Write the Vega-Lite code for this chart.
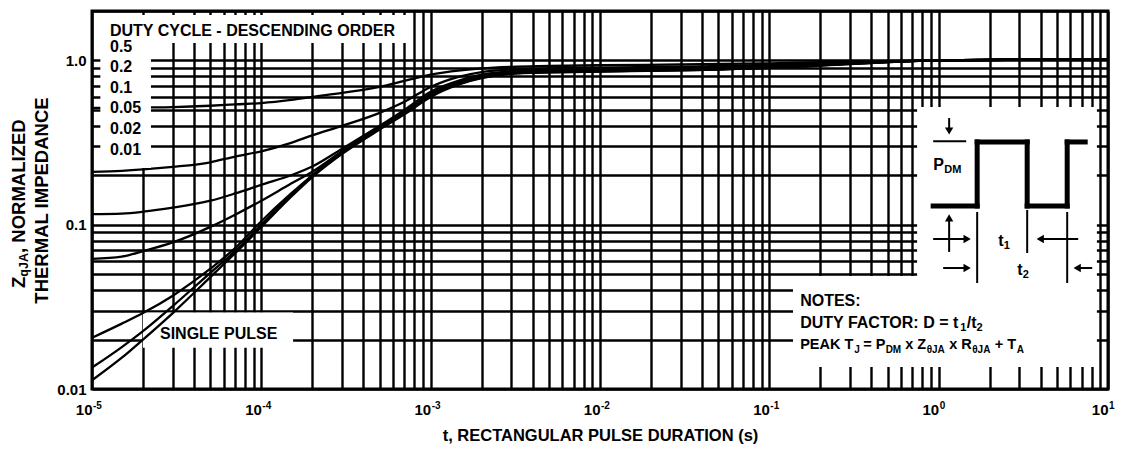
{
"$schema":"https://vega.github.io/schema/vega-lite/v6.json",
"width":1016,"height":378,
"autosize":{"type":"none"},
"padding":{"left":92,"top":11,"right":19,"bottom":67},
"background":"white",
"config":{
 "view":{"stroke":"black","strokeWidth":3},
 "font":"Liberation Sans, Arial, sans-serif",
 "axis":{"grid":true,"gridColor":"black","gridWidth":2.4,"gridOpacity":1,"ticks":false,"domain":false,
  "labelColor":"black","titleColor":"black","labelFontWeight":"bold","titleFontWeight":"bold",
  "labelFont":"Liberation Sans, Arial, sans-serif","titleFont":"Liberation Sans, Arial, sans-serif",
  "labelOverlap":false,"labelFlush":false,"labelBound":false}
},
"datasets":{
"curves":[
{"d":"SP","t":0.00001,"z":0.0113},{"d":"SP","t":0.000015,"z":0.0155},{"d":"SP","t":0.00002,"z":0.02},{"d":"SP","t":0.00003,"z":0.029},{"d":"SP","t":0.00005,"z":0.048},{"d":"SP","t":0.00007,"z":0.067},{"d":"SP","t":0.0001,"z":0.097},{"d":"SP","t":0.00015,"z":0.148},{"d":"SP","t":0.0002,"z":0.195},{"d":"SP","t":0.0003,"z":0.27},{"d":"SP","t":0.0005,"z":0.38},{"d":"SP","t":0.0007,"z":0.47},{"d":"SP","t":0.001,"z":0.6},{"d":"SP","t":0.0015,"z":0.72},{"d":"SP","t":0.002,"z":0.78},{"d":"SP","t":0.003,"z":0.83},{"d":"SP","t":0.005,"z":0.845},{"d":"SP","t":0.01,"z":0.855},{"d":"SP","t":0.03,"z":0.87},{"d":"SP","t":0.1,"z":0.9},{"d":"SP","t":0.3,"z":0.95},{"d":"SP","t":1,"z":1.0},{"d":"SP","t":3,"z":1.01},{"d":"SP","t":10,"z":1.01},
{"d":"0.01","t":0.00001,"z":0.0135},{"d":"0.01","t":0.000015,"z":0.018},{"d":"0.01","t":0.00002,"z":0.0225},{"d":"0.01","t":0.00003,"z":0.032},{"d":"0.01","t":0.00005,"z":0.051},{"d":"0.01","t":0.00007,"z":0.069},{"d":"0.01","t":0.0001,"z":0.1},{"d":"0.01","t":0.00015,"z":0.152},{"d":"0.01","t":0.0002,"z":0.198},{"d":"0.01","t":0.0003,"z":0.272},{"d":"0.01","t":0.0005,"z":0.385},{"d":"0.01","t":0.0007,"z":0.475},{"d":"0.01","t":0.001,"z":0.61},{"d":"0.01","t":0.0015,"z":0.725},{"d":"0.01","t":0.002,"z":0.785},{"d":"0.01","t":0.003,"z":0.833},{"d":"0.01","t":0.005,"z":0.848},{"d":"0.01","t":0.01,"z":0.858},{"d":"0.01","t":0.03,"z":0.872},{"d":"0.01","t":0.1,"z":0.902},{"d":"0.01","t":0.3,"z":0.952},{"d":"0.01","t":1,"z":1.0},{"d":"0.01","t":3,"z":1.01},{"d":"0.01","t":10,"z":1.01},
{"d":"0.02","t":0.00001,"z":0.0205},{"d":"0.02","t":0.000015,"z":0.025},{"d":"0.02","t":0.00002,"z":0.029},{"d":"0.02","t":0.00003,"z":0.037},{"d":"0.02","t":0.00005,"z":0.054},{"d":"0.02","t":0.00007,"z":0.072},{"d":"0.02","t":0.0001,"z":0.105},{"d":"0.02","t":0.00015,"z":0.155},{"d":"0.02","t":0.0002,"z":0.2},{"d":"0.02","t":0.0003,"z":0.275},{"d":"0.02","t":0.0005,"z":0.39},{"d":"0.02","t":0.0007,"z":0.48},{"d":"0.02","t":0.001,"z":0.615},{"d":"0.02","t":0.0015,"z":0.73},{"d":"0.02","t":0.002,"z":0.79},{"d":"0.02","t":0.003,"z":0.835},{"d":"0.02","t":0.005,"z":0.85},{"d":"0.02","t":0.01,"z":0.86},{"d":"0.02","t":0.03,"z":0.875},{"d":"0.02","t":0.1,"z":0.905},{"d":"0.02","t":0.3,"z":0.955},{"d":"0.02","t":1,"z":1.0},{"d":"0.02","t":3,"z":1.01},{"d":"0.02","t":10,"z":1.01},
{"d":"0.05","t":0.00001,"z":0.062},{"d":"0.05","t":0.000015,"z":0.064},{"d":"0.05","t":0.00002,"z":0.069},{"d":"0.05","t":0.00003,"z":0.078},{"d":"0.05","t":0.00005,"z":0.097},{"d":"0.05","t":0.00007,"z":0.115},{"d":"0.05","t":0.0001,"z":0.14},{"d":"0.05","t":0.00015,"z":0.178},{"d":"0.05","t":0.0002,"z":0.21},{"d":"0.05","t":0.0003,"z":0.28},{"d":"0.05","t":0.0005,"z":0.39},{"d":"0.05","t":0.0007,"z":0.485},{"d":"0.05","t":0.001,"z":0.625},{"d":"0.05","t":0.0015,"z":0.74},{"d":"0.05","t":0.002,"z":0.8},{"d":"0.05","t":0.003,"z":0.845},{"d":"0.05","t":0.005,"z":0.86},{"d":"0.05","t":0.01,"z":0.87},{"d":"0.05","t":0.03,"z":0.885},{"d":"0.05","t":0.1,"z":0.915},{"d":"0.05","t":0.3,"z":0.96},{"d":"0.05","t":1,"z":1.0},{"d":"0.05","t":3,"z":1.01},{"d":"0.05","t":10,"z":1.01},
{"d":"0.1","t":0.00001,"z":0.116},{"d":"0.1","t":0.000015,"z":0.117},{"d":"0.1","t":0.00002,"z":0.12},{"d":"0.1","t":0.00003,"z":0.127},{"d":"0.1","t":0.00005,"z":0.14},{"d":"0.1","t":0.00007,"z":0.155},{"d":"0.1","t":0.0001,"z":0.175},{"d":"0.1","t":0.00015,"z":0.2},{"d":"0.1","t":0.0002,"z":0.226},{"d":"0.1","t":0.0003,"z":0.29},{"d":"0.1","t":0.0005,"z":0.4},{"d":"0.1","t":0.0007,"z":0.5},{"d":"0.1","t":0.001,"z":0.645},{"d":"0.1","t":0.0015,"z":0.76},{"d":"0.1","t":0.002,"z":0.82},{"d":"0.1","t":0.003,"z":0.86},{"d":"0.1","t":0.005,"z":0.875},{"d":"0.1","t":0.01,"z":0.885},{"d":"0.1","t":0.03,"z":0.9},{"d":"0.1","t":0.1,"z":0.925},{"d":"0.1","t":0.3,"z":0.965},{"d":"0.1","t":1,"z":1.0},{"d":"0.1","t":3,"z":1.01},{"d":"0.1","t":10,"z":1.01},
{"d":"0.2","t":0.00001,"z":0.21},{"d":"0.2","t":0.000015,"z":0.213},{"d":"0.2","t":0.00002,"z":0.217},{"d":"0.2","t":0.00003,"z":0.225},{"d":"0.2","t":0.00005,"z":0.24},{"d":"0.2","t":0.00007,"z":0.26},{"d":"0.2","t":0.0001,"z":0.28},{"d":"0.2","t":0.00015,"z":0.315},{"d":"0.2","t":0.0002,"z":0.35},{"d":"0.2","t":0.0003,"z":0.4},{"d":"0.2","t":0.0005,"z":0.48},{"d":"0.2","t":0.0007,"z":0.56},{"d":"0.2","t":0.001,"z":0.69},{"d":"0.2","t":0.0015,"z":0.8},{"d":"0.2","t":0.002,"z":0.85},{"d":"0.2","t":0.003,"z":0.88},{"d":"0.2","t":0.005,"z":0.895},{"d":"0.2","t":0.01,"z":0.905},{"d":"0.2","t":0.03,"z":0.915},{"d":"0.2","t":0.1,"z":0.94},{"d":"0.2","t":0.3,"z":0.975},{"d":"0.2","t":1,"z":1.0},{"d":"0.2","t":3,"z":1.01},{"d":"0.2","t":10,"z":1.01},
{"d":"0.5","t":0.00001,"z":0.514},{"d":"0.5","t":0.000015,"z":0.515},{"d":"0.5","t":0.00002,"z":0.517},{"d":"0.5","t":0.00003,"z":0.52},{"d":"0.5","t":0.00005,"z":0.53},{"d":"0.5","t":0.00007,"z":0.54},{"d":"0.5","t":0.0001,"z":0.55},{"d":"0.5","t":0.00015,"z":0.575},{"d":"0.5","t":0.0002,"z":0.6},{"d":"0.5","t":0.0003,"z":0.635},{"d":"0.5","t":0.0005,"z":0.69},{"d":"0.5","t":0.0007,"z":0.75},{"d":"0.5","t":0.001,"z":0.82},{"d":"0.5","t":0.0015,"z":0.87},{"d":"0.5","t":0.002,"z":0.895},{"d":"0.5","t":0.003,"z":0.915},{"d":"0.5","t":0.005,"z":0.925},{"d":"0.5","t":0.01,"z":0.935},{"d":"0.5","t":0.03,"z":0.945},{"d":"0.5","t":0.1,"z":0.96},{"d":"0.5","t":0.3,"z":0.985},{"d":"0.5","t":1,"z":1.0},{"d":"0.5","t":3,"z":1.01},{"d":"0.5","t":10,"z":1.01}
],
"boxes":[
{"part":"under","t":0.00002,"t2":0.000154,"z":0.0178,"z2":0.0292},
{"part":"over","t":0.0000112,"t2":0.000776,"z":1.277,"z2":1.89},
{"part":"over","t":0.0000112,"t2":0.0000223,"z":0.2215,"z2":1.3},
{"part":"over","t":0.746,"t2":8.6,"z":0.0488,"z2":0.521},
{"part":"over","t":0.138,"t2":8.6,"z":0.0136,"z2":0.0488}
],
"segs":[
{"w":"thick","t":0.928,"t2":1.688,"z":0.13,"z2":0.13},
{"w":"thick","t":1.688,"t2":1.688,"z":0.13,"z2":0.319},
{"w":"thick","t":1.688,"t2":3.332,"z":0.319,"z2":0.319},
{"w":"thick","t":3.332,"t2":3.332,"z":0.319,"z2":0.13},
{"w":"thick","t":3.332,"t2":5.741,"z":0.13,"z2":0.13},
{"w":"thick","t":5.741,"t2":5.741,"z":0.13,"z2":0.319},
{"w":"thick","t":5.741,"t2":7.334,"z":0.319,"z2":0.319},
{"w":"thin","t":0.928,"t2":1.454,"z":0.322,"z2":0.322},
{"w":"thin","t":1.153,"t2":1.153,"z":0.446,"z2":0.372},
{"w":"thin","t":1.153,"t2":1.153,"z":0.0683,"z2":0.11},
{"w":"thin","t":0.928,"t2":1.473,"z":0.0819,"z2":0.0819},
{"w":"thin","t":1.688,"t2":1.688,"z":0.1196,"z2":0.0442},
{"w":"thin","t":3.332,"t2":3.332,"z":0.123,"z2":0.0673},
{"w":"thin","t":3.98,"t2":6.668,"z":0.0819,"z2":0.0819},
{"w":"thin","t":5.741,"t2":5.741,"z":0.1196,"z2":0.0442},
{"w":"thin","t":1.063,"t2":1.473,"z":0.0545,"z2":0.0545},
{"w":"thin","t":6.577,"t2":8.07,"z":0.0545,"z2":0.0545}
],
"heads":[
{"dir":"down","t":1.153,"z":0.372},
{"dir":"up","t":1.153,"z":0.11},
{"dir":"right","t":1.473,"z":0.0819},
{"dir":"left","t":3.98,"z":0.0819},
{"dir":"right","t":1.473,"z":0.0545},
{"dir":"left","t":6.577,"z":0.0545}
],
"labels":[
{"role":"main","t":0.00001277,"z":1.51,"s":"DUTY CYCLE - DESCENDING ORDER"},
{"role":"main","t":0.00001277,"z":1.208,"s":"0.5"},
{"role":"main","t":0.00001277,"z":0.912,"s":"0.2"},
{"role":"main","t":0.00001277,"z":0.68,"s":"0.1"},
{"role":"main","t":0.00001277,"z":0.514,"s":"0.05"},
{"role":"main","t":0.00001277,"z":0.3826,"s":"0.02"},
{"role":"main","t":0.00001277,"z":0.285,"s":"0.01"},
{"role":"main","t":0.0000252,"z":0.0215,"s":"SINGLE PULSE"},
{"role":"main","t":0.1521,"z":0.0343,"s":"NOTES:"},
{"role":"main","t":0.1521,"z":0.0252,"s":"DUTY FACTOR: D = t"},
{"role":"sub","t":1.34,"z":0.0252,"s":"1"},
{"role":"main","t":1.464,"z":0.0252,"s":"/t"},
{"role":"sub","t":1.672,"z":0.0252,"s":"2"},
{"role":"main","t":0.928,"z":0.231,"s":"P"},
{"role":"sub","t":1.078,"z":0.231,"s":"DM"},
{"role":"main","t":2.247,"z":0.0796,"s":"t"},
{"role":"sub","t":2.421,"z":0.0796,"s":"1"},
{"role":"main","t":2.909,"z":0.053,"s":"t"},
{"role":"sub","t":3.135,"z":0.053,"s":"2"}
],
"peak":[
{"role":"main","t":0.1521,"z":0.01854,"s":"PEAK T"},
{"role":"sub","t":0.3169,"z":0.01854,"s":"J"},
{"role":"main","t":0.3582,"z":0.01854,"s":"= P"},
{"role":"sub","t":0.4862,"z":0.01854,"s":"DM"},
{"role":"main","t":0.634,"z":0.01854,"s":"x Z"},
{"role":"sub","t":0.8493,"z":0.01854,"s":"θJA"},
{"role":"main","t":1.1535,"z":0.01854,"s":"x R"},
{"role":"sub","t":1.5771,"z":0.01854,"s":"θJA"},
{"role":"main","t":2.1419,"z":0.01854,"s":"+ T"},
{"role":"sub","t":2.8885,"z":0.01854,"s":"A"}
],
"exps":[
{"t":0.00001,"z":0.0079,"s":"-5"},
{"t":0.0001,"z":0.0079,"s":"-4"},
{"t":0.001,"z":0.0079,"s":"-3"},
{"t":0.01,"z":0.0079,"s":"-2"},
{"t":0.1,"z":0.0079,"s":"-1"},
{"t":1,"z":0.0079,"s":"0"},
{"t":10,"z":0.0079,"s":"1"}
],
"ytitle":[
{"role":"main","t":0.000003706,"z":0.0412,"s":"Z"},
{"role":"sub","t":0.000003706,"z":0.0483,"s":"qJA"},
{"role":"main","t":0.000003706,"z":0.0673,"s":", NORMALIZED"}
]
},
"encoding":{
 "x":{"field":"t","type":"quantitative",
  "scale":{"type":"log","domain":[0.00001,10],"nice":false},
  "axis":{"values":[0.00001,0.00002,0.00003,0.00004,0.00005,0.00006,0.00007,0.00008,0.00009,0.0001,0.0002,0.0003,0.0004,0.0005,0.0006,0.0007,0.0008,0.0009,0.001,0.002,0.003,0.004,0.005,0.006,0.007,0.008,0.009,0.01,0.02,0.03,0.04,0.05,0.06,0.07,0.08,0.09,0.1,0.2,0.3,0.4,0.5,0.6,0.7,0.8,0.9,1,2,3,4,5,6,7,8,9,10],
   "labelExpr":"(datum.value == 0.00001 || datum.value == 0.0001 || datum.value == 0.001 || datum.value == 0.01 || datum.value == 0.1 || datum.value == 1 || datum.value == 10) ? '10' : ''",
   "labelFontSize":15,"labelPadding":13,"labelAlign":"right","labelDx":0,
   "title":"t, RECTANGULAR PULSE DURATION (s)","titleFontSize":16.5,"titlePadding":10}},
 "y":{"field":"z","type":"quantitative",
  "scale":{"type":"log","domain":[0.01,2],"nice":false},
  "axis":{"values":[0.01,0.02,0.03,0.04,0.05,0.06,0.07,0.08,0.09,0.1,0.2,0.3,0.4,0.5,0.6,0.7,0.8,0.9,1,2],
   "labelExpr":"datum.value == 1 ? '1.0' : datum.value == 0.1 ? '0.1' : datum.value == 0.01 ? '0.01' : ''",
   "labelFontSize":15,"labelPadding":6,
   "title":"THERMAL IMPEDANCE","titleFontSize":18.5,"titlePadding":5}}
},
"layer":[
 {"data":{"name":"boxes"},"transform":[{"filter":"datum.part == 'under'"}],
  "mark":{"type":"rect","fill":"white","stroke":null},
  "encoding":{"x2":{"field":"t2"},"y2":{"field":"z2"}}},
 {"data":{"name":"curves"},
  "mark":{"type":"line","color":"black","strokeWidth":2.3,"interpolate":"monotone"},
  "encoding":{"detail":{"field":"d"}}},
 {"data":{"name":"boxes"},"transform":[{"filter":"datum.part == 'over'"}],
  "mark":{"type":"rect","fill":"white","stroke":null},
  "encoding":{"x2":{"field":"t2"},"y2":{"field":"z2"}}},
 {"data":{"name":"segs"},"transform":[{"filter":"datum.w == 'thick'"}],
  "mark":{"type":"rule","color":"black","strokeWidth":5,"strokeCap":"square"},
  "encoding":{"x2":{"field":"t2"},"y2":{"field":"z2"}}},
 {"data":{"name":"segs"},"transform":[{"filter":"datum.w == 'thin'"}],
  "mark":{"type":"rule","color":"black","strokeWidth":2},
  "encoding":{"x2":{"field":"t2"},"y2":{"field":"z2"}}},
 {"data":{"name":"heads"},
  "mark":{"type":"point","filled":true,"color":"black","size":70,"opacity":1},
  "encoding":{"shape":{"field":"dir","type":"nominal","scale":{"domain":["down","up","right","left"],"range":["triangle-down","triangle-up","triangle-right","triangle-left"]},"legend":null}}},
 {"data":{"name":"labels"},"transform":[{"filter":"datum.role == 'main'"}],
  "mark":{"type":"text","align":"left","baseline":"middle","fontSize":16,"fontWeight":"bold","color":"black"},
  "encoding":{"text":{"field":"s"}}},
 {"data":{"name":"labels"},"transform":[{"filter":"datum.role == 'sub'"}],
  "mark":{"type":"text","align":"left","baseline":"middle","fontSize":11,"fontWeight":"bold","color":"black","dy":5},
  "encoding":{"text":{"field":"s"}}},
 {"data":{"name":"peak"},"transform":[{"filter":"datum.role == 'main'"}],
  "mark":{"type":"text","align":"left","baseline":"middle","fontSize":14.5,"fontWeight":"bold","color":"black"},
  "encoding":{"text":{"field":"s"}}},
 {"data":{"name":"peak"},"transform":[{"filter":"datum.role == 'sub'"}],
  "mark":{"type":"text","align":"left","baseline":"middle","fontSize":10,"fontWeight":"bold","color":"black","dy":5},
  "encoding":{"text":{"field":"s"}}},
 {"data":{"name":"exps"},
  "mark":{"type":"text","align":"left","baseline":"middle","fontSize":10,"fontWeight":"bold","color":"black","dx":1},
  "encoding":{"text":{"field":"s"}}},
 {"data":{"name":"ytitle"},"transform":[{"filter":"datum.role == 'main'"}],
  "mark":{"type":"text","align":"left","baseline":"middle","angle":270,"fontSize":18.5,"fontWeight":"bold","color":"black"},
  "encoding":{"text":{"field":"s"}}},
 {"data":{"name":"ytitle"},"transform":[{"filter":"datum.role == 'sub'"}],
  "mark":{"type":"text","align":"left","baseline":"middle","angle":270,"fontSize":12.5,"fontWeight":"bold","color":"black","dy":5},
  "encoding":{"text":{"field":"s"}}}
]
}
